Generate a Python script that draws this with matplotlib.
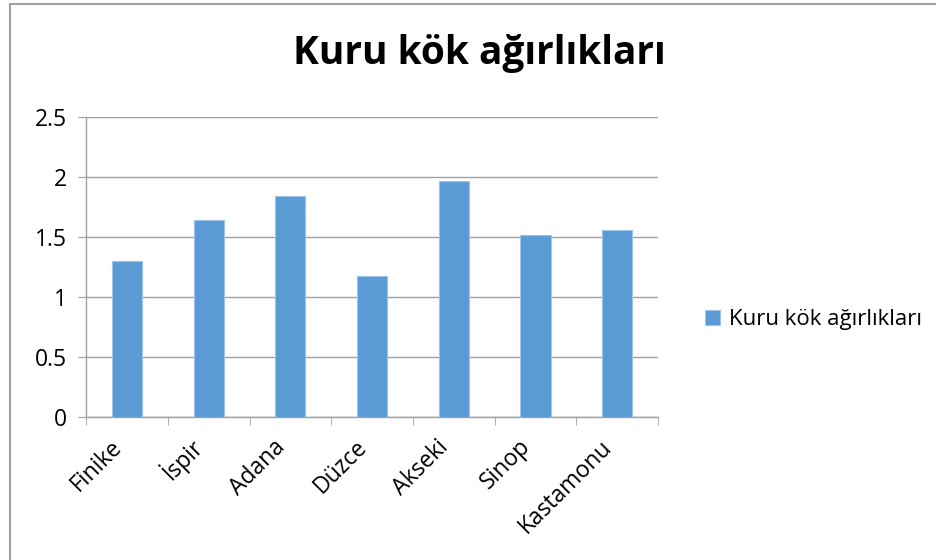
import matplotlib
matplotlib.use("Agg")
import matplotlib.pyplot as plt
from matplotlib.lines import Line2D

categories = ["Finike", "İspir", "Adana", "Düzce", "Akseki", "Sinop", "Kastamonu"]
values = [1.30, 1.64, 1.84, 1.18, 1.97, 1.52, 1.56]
series_name = "Kuru kök ağırlıkları"
yticks = [0, 0.5, 1, 1.5, 2, 2.5]
ytick_labels = ["0", "0.5", "1", "1.5", "2", "2.5"]

plt.rcParams['font.family'] = ['Open Sans', 'DejaVu Sans']

fig = plt.figure(figsize=(9.36, 5.6), dpi=100)
ax = fig.add_axes([0.092, 0.255, 0.611, 0.536])

x = list(range(len(categories)))
ax.bar(x, values, width=0.37, color="#5B9BD5", edgecolor="#9DC3E6", linewidth=0.8,
       label=series_name, zorder=3)

ax.set_xlim(-0.5, len(categories) - 0.5)
ax.set_ylim(0, 2.5)
ax.set_yticks(yticks)
ax.set_yticklabels(ytick_labels, fontsize=16.5)
ax.yaxis.grid(True, color="#A0A0A0", linewidth=1, zorder=0)
ax.set_xticks(x)
ax.set_xticklabels(categories, fontsize=16.5, rotation=45, ha="right", va="bottom",
                   rotation_mode="anchor")
ax.set_xticks([i - 0.5 for i in range(len(categories) + 1)], minor=True)
ax.tick_params(axis="x", which="major", length=0, pad=25)
ax.tick_params(axis="x", which="minor", length=6, color="#A0A0A0", direction="out")
ax.tick_params(axis="y", length=6, color="#A0A0A0", direction="out", pad=8)

for s in ["top", "right"]:
    ax.spines[s].set_visible(False)
for s in ["left", "bottom"]:
    ax.spines[s].set_color("#A0A0A0")
    ax.spines[s].set_linewidth(1)

fig.text(0.512, 0.905, series_name, fontsize=28, fontweight="bold", ha="center", va="center")

leg = fig.legend(loc="center left", bbox_to_anchor=(0.753, 0.429), frameon=False, fontsize=16,
                 handlelength=0.7, handleheight=0.7, handletextpad=0.4, borderpad=0,
                 borderaxespad=0)

# outer chart-area border (left and top edges visible)
fig.add_artist(Line2D([0.0105, 0.0105], [0.0, 0.9925], transform=fig.transFigure,
                      color="#A0A0A0", linewidth=1.5))
fig.add_artist(Line2D([0.0105, 1.0], [0.9925, 0.9925], transform=fig.transFigure,
                      color="#A0A0A0", linewidth=1.5))

fig.savefig("out.png", dpi=100)
